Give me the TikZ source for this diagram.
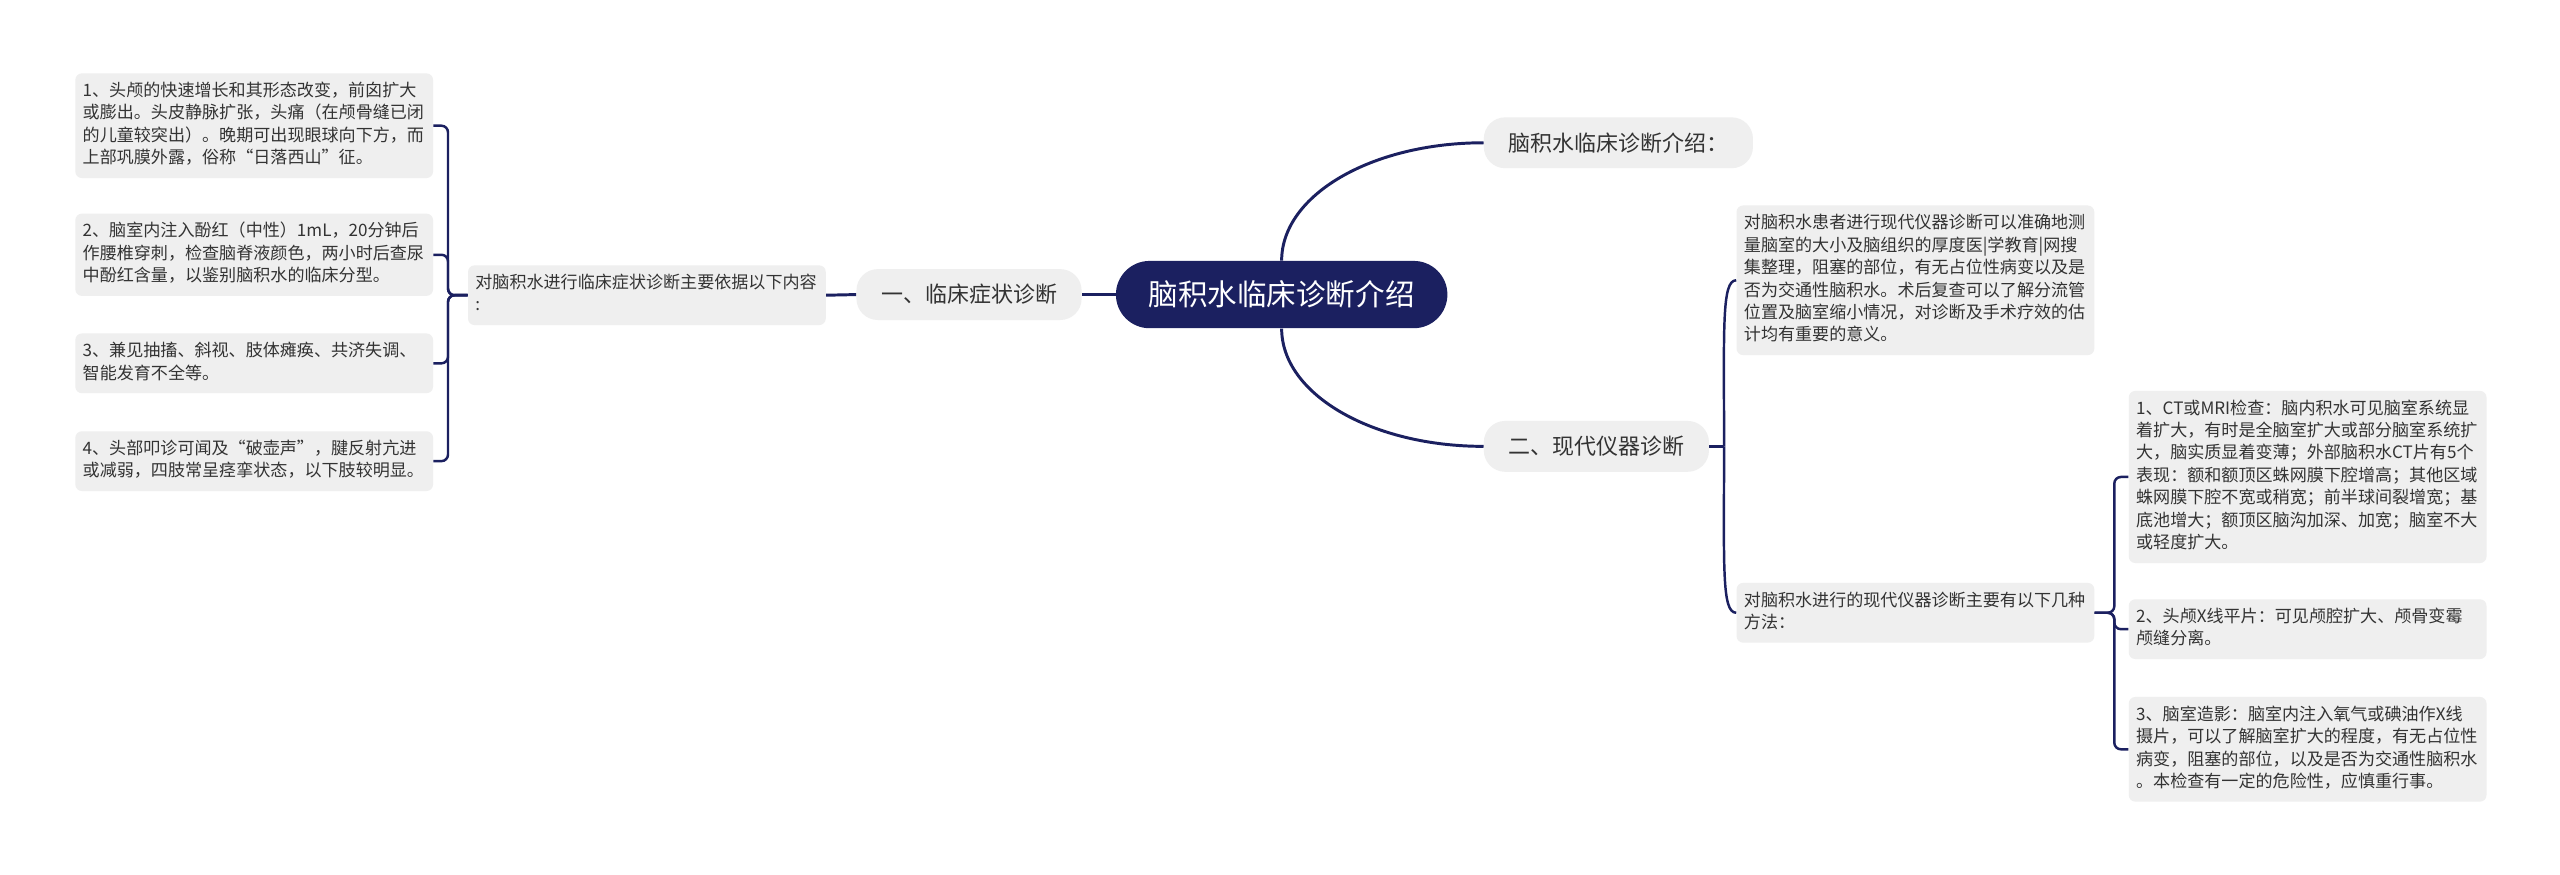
\documentclass[tikz,border=0pt]{standalone}
\usepackage{fontspec}
\setmainfont{Noto Sans CJK SC}
\usetikzlibrary{positioning}
\definecolor{navy}{RGB}{27,32,96}
\definecolor{boxgray}{RGB}{239,239,239}
\definecolor{txtgray}{RGB}{51,51,51}

\begin{document}
\begin{tikzpicture}[x=1pt,y=-1pt,
  rootnode/.style={fill=navy,text=white,rounded corners=20.5pt,minimum height=41pt,inner xsep=20pt,inner ysep=0pt,font=\fontsize{18}{22}\selectfont},
  topic/.style={fill=boxgray,text=txtgray,rounded corners=13pt,minimum height=31pt,inner xsep=15pt,inner ysep=0pt,font=\fontsize{13.4}{16}\selectfont},
  leaf/.style={fill=boxgray,text=txtgray,rounded corners=4pt,text width=209pt,inner xsep=4.5pt,inner ysep=4.5pt,align=left,font=\fontsize{10.4}{13.7}\selectfont,execute at begin node=\strut,execute at end node=\strut},
  mainline/.style={draw=navy,line width=1.8pt},
  brace/.style={draw=navy,line width=1.5pt,rounded corners=4pt}]
\fill[white] (0,0) rectangle (1560,533);
\useasboundingbox (0,0) rectangle (1560,533);

% centre
\node[rootnode] (root) at (781,179.5) {脑积水临床诊断介绍};

% left branch
\node[topic] (t1) at (590.5,179.5) {一、临床症状诊断};
\node[leaf,anchor=north west] (l2) at (285,161.5) {对脑积水进行临床症状诊断主要依据以下内容\\:};
\node[leaf,anchor=north west] (b1) at (45.7,44.5) {1、头颅的快速增长和其形态改变，前囟扩大\\或膨出。头皮静脉扩张，头痛（在颅骨缝已闭\\的儿童较突出）。晚期可出现眼球向下方，而\\上部巩膜外露，俗称“日落西山”征。};
\node[leaf,anchor=north west] (b2) at (45.7,130) {2、脑室内注入酚红（中性）1mL，20分钟后\\作腰椎穿刺，检查脑脊液颜色，两小时后查尿\\中酚红含量，以鉴别脑积水的临床分型。};
\node[leaf,anchor=north west] (b3) at (45.7,203) {3、兼见抽搐、斜视、肢体瘫痪、共济失调、\\智能发育不全等。};
\node[leaf,anchor=north west] (b4) at (45.7,262.6) {4、头部叩诊可闻及“破壶声”，腱反射亢进\\或减弱，四肢常呈痉挛状态，以下肢较明显。};

% right branch
\node[topic,anchor=west] (r1) at (904,87) {脑积水临床诊断介绍：};
\node[topic,anchor=west] (r2) at (904,272) {二、现代仪器诊断};
\node[leaf,anchor=north west] (ba) at (1058,125) {对脑积水患者进行现代仪器诊断可以准确地测\\量脑室的大小及脑组织的厚度医|学教育|网搜\\集整理，阻塞的部位，有无占位性病变以及是\\否为交通性脑积水。术后复查可以了解分流管\\位置及脑室缩小情况，对诊断及手术疗效的估\\计均有重要的意义。};
\node[leaf,anchor=north west] (bb) at (1058,355) {对脑积水进行的现代仪器诊断主要有以下几种\\方法：};
\node[leaf,anchor=north west] (c1) at (1297,238) {1、CT或MRI检查：脑内积水可见脑室系统显\\着扩大，有时是全脑室扩大或部分脑室系统扩\\大，脑实质显着变薄；外部脑积水CT片有5个\\表现：额和额顶区蛛网膜下腔增高；其他区域\\蛛网膜下腔不宽或稍宽；前半球间裂增宽；基\\底池增大；额顶区脑沟加深、加宽；脑室不大\\或轻度扩大。};
\node[leaf,anchor=north west] (c2) at (1297,365) {2、头颅X线平片：可见颅腔扩大、颅骨变霉\\颅缝分离。};
\node[leaf,anchor=north west] (c3) at (1297,424.5) {3、脑室造影：脑室内注入氧气或碘油作X线\\摄片，可以了解脑室扩大的程度，有无占位性\\病变，阻塞的部位，以及是否为交通性脑积水\\。本检查有一定的危险性，应慎重行事。};

% connectors
\draw[mainline] (root.west) -- (t1.east);
\draw[mainline] (t1.west) -- (l2.east);
\draw[mainline] (root.north) .. controls +(0,-40) and +(-68,0) .. (r1.west);
\draw[mainline] (root.south) .. controls +(0,40) and +(-68,0) .. (r2.west);
\foreach \b in {b1,b2,b3,b4}
  \draw[brace] (l2.west) -- ++(-12,0) |- (\b.east);
\draw[brace] (r2.east) -- ++(9,0) coordinate (rj);
\draw[brace] (rj) .. controls +(0,-72) and +(-9,0) .. (ba.west);
\draw[brace] (rj) .. controls +(0,73) and +(-9,0) .. (bb.west);
\foreach \c in {c1,c2,c3}
  \draw[brace] (bb.east) -- ++(12,0) |- (\c.west);
\end{tikzpicture}
\end{document}
